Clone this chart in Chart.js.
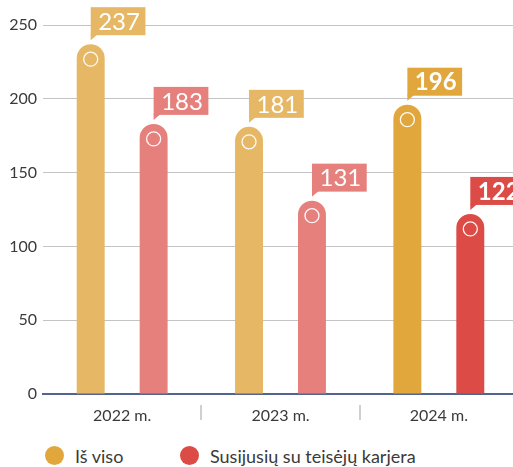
<!DOCTYPE html>
<html lang="lt">
<head>
<meta charset="utf-8">
<script src="https://cdn.jsdelivr.net/npm/chart.js@4/dist/chart.umd.min.js"></script>
<style>
  html, body { margin: 0; padding: 0; background: #fff; overflow: hidden; }
  #wrap { position: relative; width: 513px; height: 467px; overflow: hidden; }
  #wrap canvas { position: absolute; left: 0; top: 0; }
  .legend { position: absolute; top: 444px; left: 0; font-family: 'Lato', sans-serif; font-size: 18px; color: #3a3a3a; }
  .legend span.item { position: absolute; white-space: nowrap; line-height: 24px; }
  .legend i { position: absolute; width: 19px; height: 19px; border-radius: 50%; top: 2px; }
</style>
</head>
<body>
<div id="wrap">
  <canvas id="chart" width="518" height="430"></canvas>
  <div class="legend">
    <i style="left:45px;background:#E1A63C"></i><span class="item" style="left:75px">Iš viso</span>
    <i style="left:180px;background:#DC4B46"></i><span class="item" style="left:210px">Susijusių su teisėjų karjera</span>
  </div>
</div>
<script>
const years = ['2022 m.', '2023 m.', '2024 m.'];
const isViso = [237, 181, 196];
const susijusiu = [183, 131, 122];
const yTicks = [0, 50, 100, 150, 200, 250];

// older years are drawn in paler shades, the latest year in full colour
const yellow = ['#E6B865', '#E6B865', '#E1A63C'];
const red = ['#E6807D', '#E6807D', '#DC4B46'];
const latest = 2;

const fontFamily = "'Lato', sans-serif";

// value callouts, small rings on the bar tops, and the separators under the axis
const calloutPlugin = {
  id: 'callouts',
  afterDatasetsDraw(chart) {
    const ctx = chart.ctx;
    ctx.save();
    chart.data.datasets.forEach((ds, di) => {
      const meta = chart.getDatasetMeta(di);
      meta.data.forEach((bar, i) => {
        const cx = bar.x;
        const top = bar.y;
        const colour = ds.backgroundColor[i];

        ctx.beginPath();
        ctx.arc(cx, top + 15, 7, 0, Math.PI * 2);
        ctx.strokeStyle = 'rgba(255,255,255,0.95)';
        ctx.lineWidth = 1.3;
        ctx.stroke();

        const text = String(ds.data[i]);
        ctx.font = (i === latest ? 'bold ' : '') + '24px ' + fontFamily;
        const w = ctx.measureText(text).width + 13;
        const h = 28;
        const boxBottom = top - 9;
        ctx.fillStyle = colour;
        ctx.fillRect(cx, boxBottom - h, w, h);
        ctx.beginPath();
        ctx.moveTo(cx, boxBottom - 1);
        ctx.lineTo(cx + 7, boxBottom - 1);
        ctx.lineTo(cx, top - 4);
        ctx.closePath();
        ctx.fill();

        ctx.fillStyle = '#fff';
        ctx.textAlign = 'center';
        ctx.textBaseline = 'middle';
        ctx.fillText(text, cx + w / 2 + 1, boxBottom - h / 2 + 1);
      });
    });

    const x = chart.scales.x;
    const bottom = chart.chartArea.bottom;
    ctx.strokeStyle = '#d0d0d0';
    ctx.lineWidth = 2;
    for (let i = 0; i < years.length - 1; i++) {
      const sx = Math.round((x.getPixelForValue(i) + x.getPixelForValue(i + 1)) / 2);
      ctx.beginPath();
      ctx.moveTo(sx, bottom + 11);
      ctx.lineTo(sx, bottom + 26);
      ctx.stroke();
    }
    ctx.restore();
  }
};

new Chart(document.getElementById('chart'), {
  type: 'bar',
  data: {
    labels: years,
    datasets: [
      {
        label: 'Iš viso',
        data: isViso,
        backgroundColor: yellow,
        borderRadius: { topLeft: 14, topRight: 14 },
        borderSkipped: 'bottom',
        categoryPercentage: 0.795,
        barPercentage: 0.444
      },
      {
        label: 'Susijusių su teisėjų karjera',
        data: susijusiu,
        backgroundColor: red,
        borderRadius: { topLeft: 14, topRight: 14 },
        borderSkipped: 'bottom',
        categoryPercentage: 0.795,
        barPercentage: 0.444
      }
    ]
  },
  options: {
    responsive: false,
    animation: false,
    layout: { padding: { top: 25, right: 0, bottom: 0, left: 0 } },
    plugins: {
      legend: { display: false },
      tooltip: { enabled: false }
    },
    scales: {
      x: {
        grid: { display: false },
        border: { display: true, color: '#52648F', width: 2 },
        ticks: {
          color: '#3a3a3a',
          padding: 4,
          font: { family: fontFamily, size: 16 }
        },
        afterFit(scale) { scale.height = 36; }
      },
      y: {
        min: 0,
        max: 250,
        afterBuildTicks(scale) { scale.ticks = yTicks.map(v => ({ value: v })); },
        grid: {
          color: ctx => ctx.tick && ctx.tick.value === 0 ? 'rgba(0,0,0,0)' : '#c4c4c4',
          drawTicks: false
        },
        border: { display: false },
        ticks: {
          color: '#3a3a3a',
          padding: 6,
          font: { family: fontFamily, size: 16 }
        },
        afterFit(scale) { scale.width = 43; }
      }
    }
  },
  plugins: [calloutPlugin]
});
</script>
</body>
</html>
